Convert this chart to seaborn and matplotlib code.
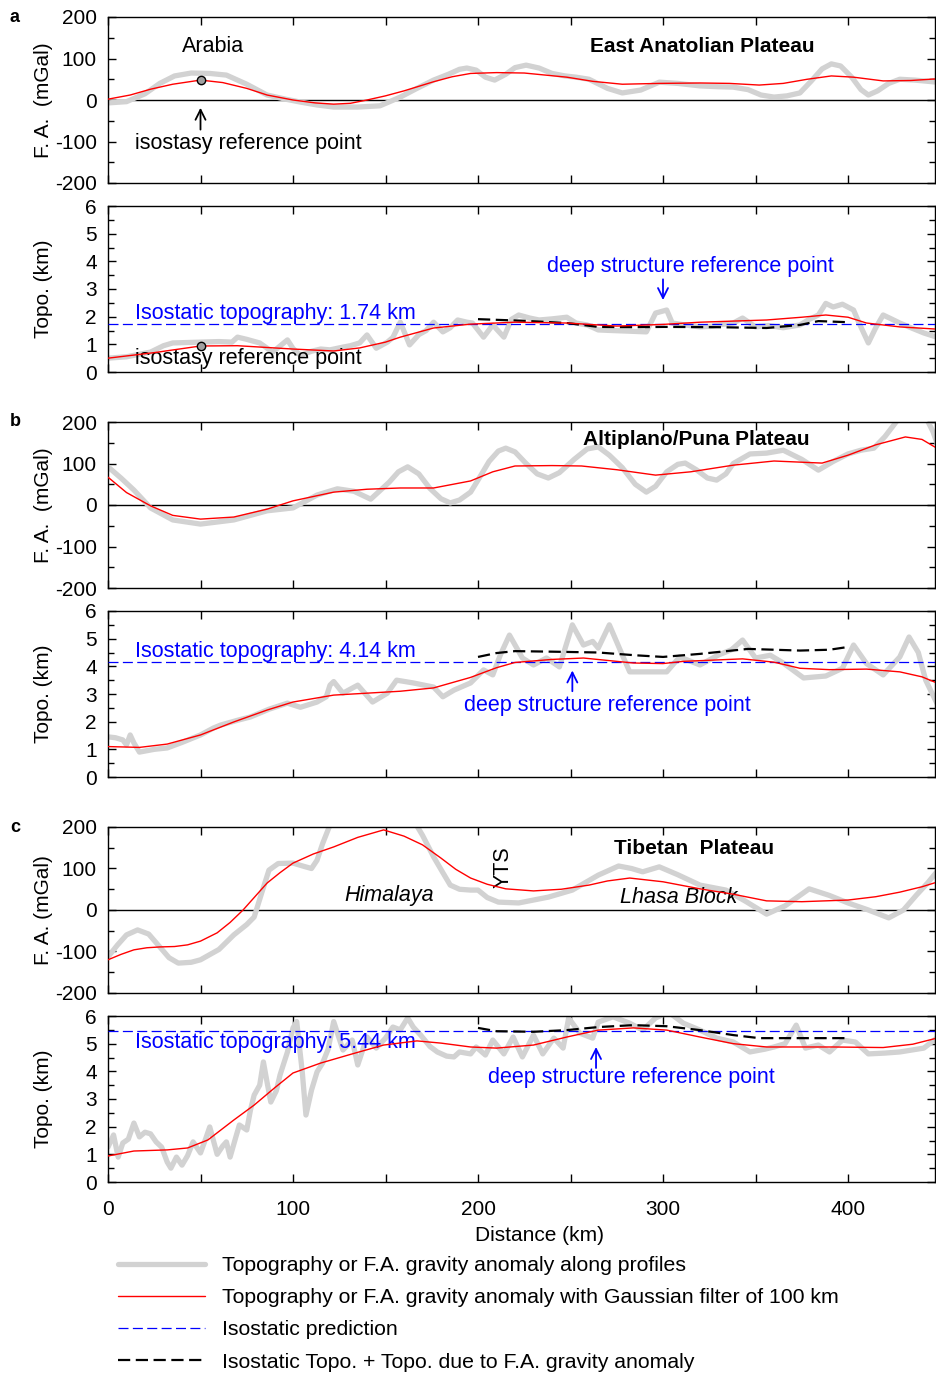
import matplotlib
matplotlib.use("Agg")
import matplotlib.pyplot as plt
from matplotlib.lines import Line2D
from matplotlib.ticker import MultipleLocator
import seaborn as sns

# ---------------- data (km along profile) ----------------
# Panel a: East Anatolian Plateau
a_fa_x = [0, 10, 20, 28, 36, 45, 55, 64, 75, 86,
          96, 104, 113, 122, 135, 147, 158, 167, 176, 184,
          190, 194, 199, 204, 209, 215, 220, 226, 233, 240,
          247, 253, 260, 270, 278, 288, 298, 308, 320, 330,
          338, 346, 353, 360, 367, 374, 380, 386, 391, 396,
          402, 407, 411, 416, 422, 428, 436, 448]
a_fa_obs = [-7, -4, 15, 40, 58, 65, 64, 60, 38, 12,
            2, -5, -12, -17, -17, -14, 7, 28, 48, 62,
            74, 77, 72, 55, 48, 62, 78, 84, 77, 64,
            58, 55, 50, 28, 17, 24, 43, 40, 34, 32,
            31, 25, 12, 7, 10, 17, 45, 75, 87, 82,
            55, 25, 12, 22, 40, 50, 48, 43]
a_fa_fx = [0, 12, 23, 35, 50, 62, 75, 86, 100, 112, 122, 131, 140, 150, 160, 176, 186,
           196, 210, 225, 248, 262, 278, 298, 320, 336, 352, 365, 378, 391, 403, 419, 434, 448]
a_fa_filt = [2, 12, 26, 38, 48, 42, 28, 12, 0, -7, -10, -8, 0, 10, 22, 44, 56,
             64, 66, 65, 55, 45, 38, 40, 41, 40, 36, 40, 50, 58, 55, 46, 47, 51]

a_tp_x = [0, 10, 23, 30, 35, 50, 60, 67, 70, 75,
          82, 89, 97, 100, 104, 110, 115, 120, 127, 131,
          136, 140, 145, 151, 154, 158, 163, 168, 172, 176,
          181, 185, 189, 194, 197, 203, 208, 214, 218, 222,
          228, 233, 240, 248, 253, 259, 265, 272, 280, 291,
          296, 302, 305, 312, 320, 326, 332, 338, 343, 350,
          357, 365, 374, 379, 384, 388, 392, 397, 403, 406,
          411, 415, 419, 424, 428, 434, 441, 448]
a_tp_obs = [0.50, 0.55, 0.72, 0.95, 1.05, 1.08, 1.10, 1.08, 1.26, 1.18,
            1.05, 0.72, 1.16, 0.85, 0.60, 0.75, 0.83, 0.80, 0.90, 0.95,
            1.05, 1.34, 0.86, 1.08, 1.25, 1.80, 0.98, 1.35, 1.50, 1.80,
            1.45, 1.60, 1.88, 1.80, 1.77, 1.26, 1.70, 1.26, 1.90, 2.06,
            1.95, 1.88, 1.92, 1.98, 1.77, 1.70, 1.52, 1.50, 1.48, 1.45,
            2.13, 2.24, 1.77, 1.70, 1.63, 1.65, 1.72, 1.77, 1.95, 1.63,
            1.68, 1.60, 1.70, 1.90, 2.06, 2.48, 2.35, 2.45, 2.24, 1.77,
            1.05, 1.60, 2.06, 1.90, 1.77, 1.60, 1.41, 1.26]
a_tp_fx = [0, 25, 50, 70, 100, 122, 136, 150, 158, 176, 196, 220, 248, 275, 300, 320,
           356, 375, 388, 400, 410, 428, 448]
a_tp_filt = [0.50, 0.70, 0.94, 0.95, 0.83, 0.76, 0.87, 1.08, 1.26, 1.59, 1.73, 1.80, 1.77,
             1.66, 1.72, 1.80, 1.88, 1.98, 2.06, 1.98, 1.77, 1.63, 1.55]
a_pred_x = [200, 225, 248, 265, 285, 301, 330, 356, 374, 384, 400]
a_pred = [1.91, 1.85, 1.77, 1.63, 1.62, 1.63, 1.62, 1.59, 1.70, 1.84, 1.80]
a_iso = 1.74

# Panel b: Altiplano/Puna Plateau
b_fa_x = [0, 7, 14, 23, 35, 50, 68, 86, 100, 113,
          124, 133, 142, 152, 157, 162, 168, 174, 180, 185,
          190, 196, 200, 206, 211, 215, 220, 226, 232, 238,
          244, 252, 259, 265, 271, 278, 285, 291, 296, 302,
          308, 312, 318, 324, 329, 334, 338, 347, 356, 365,
          375, 384, 392, 400, 407, 414, 420, 426, 433, 440,
          446, 448]
b_fa_obs = [92, 65, 36, -7, -36, -46, -36, -14, -7, 24,
            39, 33, 14, 55, 80, 92, 75, 40, 15, 5,
            12, 31, 60, 105, 130, 137, 128, 100, 75, 65,
            78, 110, 135, 140, 120, 90, 50, 31, 45, 80,
            98, 101, 85, 65, 60, 75, 100, 123, 125, 132,
            110, 84, 105, 123, 132, 137, 165, 200, 240, 230,
            176, 150]
b_fa_fx = [0, 10, 23, 35, 50, 68, 86, 100, 122, 140, 158, 176, 196, 208, 220, 240, 256,
           275, 296, 315, 338, 360, 386, 400, 415, 431, 440, 448]
b_fa_filt = [67, 30, -2, -25, -34, -29, -10, 10, 31, 38, 41, 41, 58, 80, 94, 95, 94,
             85, 72, 80, 96, 106, 101, 120, 145, 164, 158, 137]

b_tp_x = [0, 4, 8, 10, 12, 14, 17, 25, 32, 40,
          50, 57, 61, 70, 77, 87, 97, 104, 113, 118,
          120, 122, 127, 135, 143, 151, 156, 165, 176, 181,
          187, 196, 203, 208, 212, 217, 224, 230, 237, 244,
          251, 257, 262, 265, 271, 278, 282, 292, 302, 309,
          320, 330, 337, 343, 350, 358, 365, 376, 388, 397,
          403, 410, 419, 428, 433, 438, 442, 448]
b_tp_obs = [1.45, 1.42, 1.34, 1.16, 1.52, 1.23, 0.90, 1.00, 1.05, 1.25,
            1.52, 1.77, 1.88, 2.05, 2.17, 2.45, 2.67, 2.52, 2.71, 2.90,
            3.32, 3.45, 3.03, 3.32, 2.71, 3.03, 3.50, 3.40, 3.25, 2.90,
            3.14, 3.40, 3.87, 3.69, 4.40, 5.13, 4.30, 4.05, 4.30, 3.98,
            5.50, 4.77, 4.90, 4.66, 5.50, 4.41, 3.80, 3.80, 3.80, 4.34,
            4.05, 4.41, 4.60, 4.95, 4.30, 4.40, 4.12, 3.58, 3.65, 3.93,
            4.77, 4.10, 3.69, 4.34, 5.06, 4.50, 3.50, 2.67]
b_tp_fx = [0, 17, 32, 50, 68, 86, 100, 122, 158, 176, 196, 210, 220, 240, 257, 284, 300,
           311, 343, 360, 374, 390, 410, 428, 440, 448]
b_tp_filt = [1.10, 1.07, 1.19, 1.52, 1.99, 2.42, 2.71, 2.96, 3.10, 3.22, 3.60, 3.95, 4.14,
             4.25, 4.30, 4.12, 4.10, 4.18, 4.27, 4.15, 3.93, 3.88, 3.90, 3.80, 3.62, 3.40]
b_pred_x = [200, 210, 220, 240, 265, 285, 300, 320, 346, 374, 390, 400]
b_pred = [4.34, 4.48, 4.55, 4.53, 4.50, 4.40, 4.34, 4.45, 4.63, 4.57, 4.60, 4.70]
b_iso = 4.14

# Panel c: Tibetan Plateau
c_fa_x = [0, 5, 10, 16, 22, 28, 33, 38, 45, 50,
          60, 68, 75, 79, 83, 87, 92, 100, 106, 110,
          113, 116, 120, 130, 145, 158, 166, 170, 176, 181,
          185, 190, 196, 200, 205, 211, 222, 238, 251, 265,
          276, 283, 289, 298, 308, 320, 334, 345, 356, 366,
          379, 390, 400, 411, 422, 430, 437, 443, 448]
c_fa_obs = [-113, -85, -60, -48, -58, -89, -115, -128, -126, -120,
            -95, -60, -35, -17, 40, 96, 112, 113, 105, 100,
            120, 160, 205, 260, 280, 260, 210, 180, 128, 90,
            60, 50, 48, 48, 30, 19, 17, 31, 48, 84,
            106, 100, 92, 104, 85, 60, 48, 20, -10, 10,
            51, 35, 17, 0, -19, 0, 36, 65, 92]
c_fa_fx = [0, 7, 14, 21, 28, 36, 43, 50, 59, 66,
           73, 80, 86, 93, 100, 111, 122, 135, 149, 160,
           170, 180, 188, 196, 205, 215, 230, 245, 260, 270,
           282, 300, 320, 338, 356, 375, 400, 415, 428, 440, 448]
c_fa_filt = [-120, -107, -96, -91, -89, -88, -84, -75, -55, -30,
             0, 35, 65, 90, 113, 135, 152, 175, 193, 178,
             157, 125, 98, 77, 62, 51, 46, 50, 60, 70,
             77, 68, 51, 38, 22, 20, 24, 32, 43, 56, 67]

c_tp_x = [0, 3, 5.5, 8, 11, 14, 17, 20, 23, 26,
          29, 32, 34, 37, 40, 43, 46, 50, 53, 55,
          59, 62, 64, 66, 69, 71, 75, 77, 79, 82,
          84, 86, 88, 91, 93, 97, 100, 102, 105, 107,
          110, 113, 116, 119, 122, 127, 132, 135, 140, 145,
          150, 154, 158, 162, 165, 169, 174, 178, 183, 187,
          190, 196, 199, 204, 208, 214, 219, 224, 230, 235,
          241, 246, 249, 255, 262, 265, 273, 282, 289, 296,
          303, 311, 320, 329, 338, 347, 355, 360, 366, 372,
          377, 384, 390, 397, 404, 411, 420, 428, 441, 448]
c_tp_obs = [1.26, 1.70, 0.90, 1.41, 1.55, 2.13, 1.63, 1.80, 1.74, 1.45,
            1.26, 0.72, 0.50, 0.90, 0.61, 0.95, 1.45, 1.05, 1.60, 1.99,
            1.00, 1.30, 1.45, 0.90, 1.60, 2.06, 1.88, 2.60, 3.14, 3.50,
            4.34, 3.60, 2.89, 3.30, 3.87, 4.70, 5.57, 5.80, 3.98, 2.42,
            3.32, 3.98, 4.30, 4.80, 5.80, 4.77, 5.13, 4.23, 5.24, 4.84,
            5.20, 5.60, 5.50, 5.93, 5.60, 5.31, 4.90, 4.70, 4.55, 4.52,
            4.70, 4.63, 4.88, 4.59, 5.13, 4.63, 5.24, 4.52, 5.31, 4.63,
            5.20, 4.84, 5.93, 5.38, 5.20, 5.78, 5.97, 5.74, 5.49, 5.93,
            6.14, 5.74, 5.49, 5.20, 5.06, 4.70, 4.80, 4.88, 5.00, 5.67,
            4.84, 4.95, 4.70, 5.13, 5.06, 4.63, 4.66, 4.70, 4.84, 5.20]
c_tp_fx = [0, 14, 32, 43, 54, 68, 79, 90, 100, 115, 132, 149, 167, 180, 196, 210, 230,
           248, 265, 284, 302, 320, 338, 356, 392, 419, 435, 448]
c_tp_filt = [0.94, 1.12, 1.16, 1.23, 1.52, 2.24, 2.78, 3.40, 3.94, 4.30, 4.63, 4.95, 5.10,
             5.02, 4.88, 4.84, 4.95, 5.24, 5.49, 5.57, 5.49, 5.24, 5.00, 4.88, 4.88, 4.86,
             4.98, 5.20]
c_pred_x = [200, 210, 230, 248, 265, 284, 302, 320, 338, 352, 374, 400]
c_pred = [5.57, 5.45, 5.43, 5.49, 5.60, 5.67, 5.63, 5.49, 5.31, 5.20, 5.20, 5.20]
c_iso = 5.44

x_ticks = [0, 100, 200, 300, 400]
legend_labels = ["Topography or F.A. gravity anomaly along profiles",
                 "Topography or F.A. gravity anomaly with Gaussian filter of 100 km",
                 "Isostatic prediction",
                 "Isostatic Topo. + Topo. due to F.A. gravity anomaly"]

# ---------------- style ----------------
sns.set_style("ticks")
plt.rcParams['font.family'] = ['Liberation Sans', 'DejaVu Sans']
plt.rcParams['axes.unicode_minus'] = False
for k in ['text.color', 'axes.labelcolor', 'xtick.color', 'ytick.color', 'axes.edgecolor']:
    plt.rcParams[k] = 'black'

GRAY = '#d2d2d2'
RED = '#ff0000'
BLUE = '#0000ff'
FS = 15
FT = 15.5

W, H = 936, 1374
fig = plt.figure(figsize=(W / 100, H / 100), dpi=100)
X0, X1 = 108, 935
XMAX = (X1 - X0) / 1.85


def make_ax(top, bottom):
    return fig.add_axes([X0 / W, 1 - bottom / H, (X1 - X0) / W, (bottom - top) / H])


def style(ax, kind, showx):
    ax.set_xlim(0, XMAX)
    ax.xaxis.set_major_locator(MultipleLocator(100))
    ax.xaxis.set_minor_locator(MultipleLocator(50))
    if kind == 'fa':
        ax.set_ylim(-200, 200)
        ax.yaxis.set_major_locator(MultipleLocator(100))
        ax.yaxis.set_minor_locator(MultipleLocator(50))
        ax.set_ylabel("F. A.  (mGal)", fontsize=FS)
    else:
        ax.set_ylim(0, 6)
        ax.yaxis.set_major_locator(MultipleLocator(1))
        ax.yaxis.set_minor_locator(MultipleLocator(0.5))
        ax.set_ylabel("Topo. (km)", fontsize=FS)
    ax.yaxis.set_label_coords(-0.066, 0.5)
    ax.tick_params(which='both', direction='in', top=True, right=True, labelsize=FS, width=1)
    ax.tick_params(which='major', length=6)
    ax.tick_params(which='minor', length=4)
    ax.tick_params(axis='x', which='minor', length=6)
    ax.tick_params(axis='y', pad=8)
    ax.tick_params(axis='x', pad=13)
    if showx:
        ax.set_xticks(x_ticks)
        ax.set_xlabel("Distance (km)", fontsize=FS)
        ax.xaxis.set_label_coords(0.522, -0.265)
    else:
        ax.tick_params(axis='x', labelbottom=False)
        ax.set_xlabel("")
    for s in ax.spines.values():
        s.set_visible(True)
        s.set_linewidth(1.0)
        s.set_color('black')


def fa_panel(ax, xo, yo, xf, yf):
    ax.axhline(0, color='black', lw=1.0, zorder=1)
    sns.lineplot(x=xo, y=yo, ax=ax, color=GRAY, lw=3.8, estimator=None, sort=False, zorder=2)
    sns.lineplot(x=xf, y=yf, ax=ax, color=RED, lw=1.0, estimator=None, sort=False, zorder=5)


def tp_panel(ax, xo, yo, xf, yf, xp, yp, iso):
    sns.lineplot(x=xo, y=yo, ax=ax, color=GRAY, lw=3.8, estimator=None, sort=False, zorder=2)
    ax.axhline(iso, color=BLUE, lw=0.9, linestyle=(0, (8, 3.5)), zorder=3)
    sns.lineplot(x=xp, y=yp, ax=ax, color='black', lw=1.6, estimator=None, sort=False,
                 linestyle=(0, (5.5, 2.5)), zorder=4)
    sns.lineplot(x=xf, y=yf, ax=ax, color=RED, lw=1.0, estimator=None, sort=False, zorder=5)


arrow_k = dict(arrowstyle='->', color='black', lw=1.3, mutation_scale=18)
arrow_b = dict(arrowstyle='->', color=BLUE, lw=1.3, mutation_scale=18)

# ---- panel a ----
ax = make_ax(17, 183)
fa_panel(ax, a_fa_x, a_fa_obs, a_fa_fx, a_fa_filt)
ax.plot([50], [48], 'o', ms=6, mfc='#a0a0a0', mec='black', mew=1, zorder=6)
ax.text(57, 128, "Arabia", fontsize=FT, ha='center', va='center')
ax.text(321, 128, "East Anatolian Plateau", fontsize=FS, fontweight='bold', ha='center', va='center')
ax.annotate('', xy=(50, -12), xytext=(50, -78), arrowprops=arrow_k)
ax.text(14.6, -104, "isostasy reference point", fontsize=FT, ha='left', va='center')
style(ax, 'fa', False)
fig.text(15 / W, 1 - 17 / H, "a", fontsize=13, fontweight='bold', ha='center', va='center')

ax = make_ax(206, 372)
tp_panel(ax, a_tp_x, a_tp_obs, a_tp_fx, a_tp_filt, a_pred_x, a_pred, a_iso)
ax.plot([50], [0.95], 'o', ms=6, mfc='#a0a0a0', mec='black', mew=1, zorder=6)
ax.text(14.6, 0.47, "isostasy reference point", fontsize=FT, ha='left', va='center')
ax.text(14.6, 2.13, "Isostatic topography: 1.74 km", fontsize=FT, color=BLUE, ha='left', va='center')
ax.text(314.6, 3.8, "deep structure reference point", fontsize=FT, color=BLUE, ha='center', va='center')
ax.annotate('', xy=(300, 2.5), xytext=(300, 3.45), arrowprops=arrow_b)
style(ax, 'tp', False)

# ---- panel b ----
ax = make_ax(422, 588)
fa_panel(ax, b_fa_x, b_fa_obs, b_fa_fx, b_fa_filt)
ax.text(318, 158, "Altiplano/Puna Plateau", fontsize=FS, fontweight='bold', ha='center', va='center')
style(ax, 'fa', False)
fig.text(15 / W, 1 - 422 / H, "b", fontsize=13, fontweight='bold', ha='center', va='center')

ax = make_ax(611, 777)
tp_panel(ax, b_tp_x, b_tp_obs, b_tp_fx, b_tp_filt, b_pred_x, b_pred, b_iso)
ax.text(14.6, 4.55, "Isostatic topography: 4.14 km", fontsize=FT, color=BLUE, ha='left', va='center')
ax.text(270, 2.57, "deep structure reference point", fontsize=FT, color=BLUE, ha='center', va='center')
ax.annotate('', xy=(251, 3.95), xytext=(251, 3.0), arrowprops=arrow_b)
style(ax, 'tp', False)

# ---- panel c ----
ax = make_ax(827, 993)
fa_panel(ax, c_fa_x, c_fa_obs, c_fa_fx, c_fa_filt)
ax.text(152, 36, "Himalaya", fontsize=FT, style='italic', ha='center', va='center')
ax.text(213.5, 104, "YTS", fontsize=FT, rotation=90, ha='center', va='center')
ax.text(317, 147, "Tibetan  Plateau", fontsize=FS, fontweight='bold', ha='center', va='center')
ax.text(308.6, 29, "Lhasa Block", fontsize=FT, style='italic', ha='center', va='center')
style(ax, 'fa', False)
ax.set_ylabel("F. A. (mGal)", fontsize=FS)
fig.text(15 / W, 1 - 827 / H, "c", fontsize=13, fontweight='bold', ha='center', va='center')

ax = make_ax(1016, 1182)
tp_panel(ax, c_tp_x, c_tp_obs, c_tp_fx, c_tp_filt, c_pred_x, c_pred, c_iso)
ax.text(14.6, 5.06, "Isostatic topography: 5.44 km", fontsize=FT, color=BLUE, ha='left', va='center')
ax.text(283, 3.76, "deep structure reference point", fontsize=FT, color=BLUE, ha='center', va='center')
ax.annotate('', xy=(263.8, 4.98), xytext=(263.8, 4.02), arrowprops=arrow_b)
style(ax, 'tp', True)

# ---- legend ----
handles = [Line2D([], [], color=GRAY, lw=3.8),
           Line2D([], [], color=RED, lw=1.0),
           Line2D([], [], color=BLUE, lw=0.9, linestyle=(0, (8, 3.5))),
           Line2D([], [], color='black', lw=1.6, linestyle=(0, (5.5, 2.5)))]
fig.legend(handles, legend_labels, loc='upper left', bbox_to_anchor=(118 / W, 1 - 1256 / H),
           frameon=False, fontsize=15.3, handlelength=4.1, handletextpad=0.8,
           labelspacing=0.62, borderaxespad=0, borderpad=0)

fig.savefig("out.png", dpi=100)
